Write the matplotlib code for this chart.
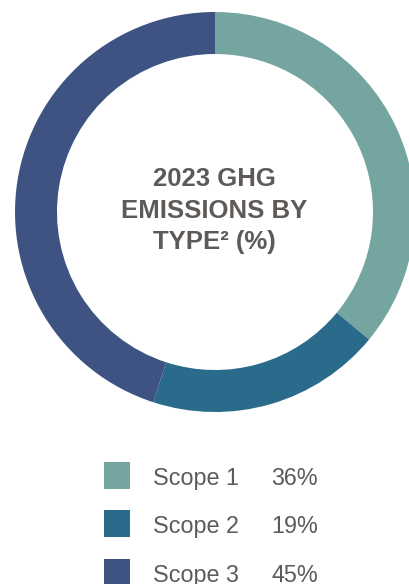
import matplotlib
matplotlib.use("Agg")
import matplotlib.pyplot as plt
from matplotlib.patches import Rectangle

categories = ["Scope 1", "Scope 2", "Scope 3"]
shares = [36, 19, 45]
colors = ["#75A5A0", "#2A6A8A", "#3E5382"]
title_lines = ["2023 GHG", "EMISSIONS BY", "TYPE² (%)"]

plt.rcParams["font.family"] = ["Liberation Sans", "DejaVu Sans"]
text_color = "#5E5A58"

W, H = 410, 584
fig = plt.figure(figsize=(W / 100, H / 100), dpi=100)
ax = fig.add_axes([0, 0, 1, 1])

# donut, pixel coords (y measured up from bottom)
cx, cy, r = 215, H - 212, 200
ax.pie(shares, colors=colors, startangle=90, counterclock=False,
       center=(cx, cy), radius=r,
       wedgeprops=dict(width=42, edgecolor="none", linewidth=0))

for i, line in enumerate(title_lines):
    ax.text(214, H - (186 + 31.5 * i), line, ha="center", va="baseline",
            fontsize=18.5, fontweight="bold", color=text_color)

# legend
for i, (cat, val, col) in enumerate(zip(categories, shares, colors)):
    yc = H - (475.5 + 48.3 * i)
    yb = H - (485 + 48.3 * i)
    ax.add_patch(Rectangle((104, yc - 13.5), 26.5, 27, facecolor=col, edgecolor="none"))
    ax.text(153, yb, cat, ha="left", va="baseline", fontsize=16.8, color=text_color)
    ax.text(318, yb, f"{val}%", ha="right", va="baseline", fontsize=16.8, color=text_color)

ax.set_xlim(0, W)
ax.set_ylim(0, H)
ax.set_aspect("auto")
ax.axis("off")

fig.savefig("out.png", dpi=100)
